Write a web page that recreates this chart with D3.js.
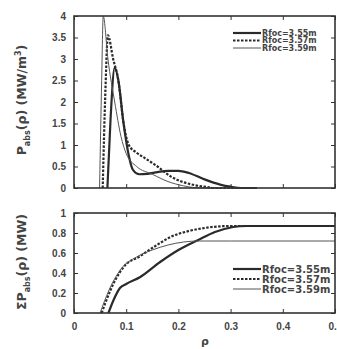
<!DOCTYPE html>
<html lang="en">
<head>
<meta charset="UTF-8">
<script src="https://d3js.org/d3.v7.min.js"></script>
<style>
  body { margin: 0; background: #fff; }
  svg { font-family: "DejaVu Sans", Arial, sans-serif; }
  .tick text { font-size: 10px; font-weight: bold; fill: #444; }
  .tick line { stroke: #333; }
  .frame { fill: none; stroke: #333; stroke-width: 1.6px; }
  .legend text { fill: #444; }
</style>
</head>
<body>
<svg width="337" height="349"></svg>
<script>
const svg = d3.select("svg");

// power density profiles P_abs(rho), MW/m^3
const rho355 = [0.064, 0.070, 0.078, 0.085, 0.095, 0.105, 0.113, 0.125, 0.14, 0.16, 0.18, 0.20, 0.22, 0.25, 0.28, 0.30, 0.32, 0.35];
const p355   = [0,     1.6,   2.8,   2.5,   1.5,   0.75,  0.42,  0.32,  0.33, 0.37, 0.40, 0.40, 0.35, 0.20, 0.08, 0.03, 0,    0];
const rho357 = [0.055, 0.060, 0.065, 0.075, 0.085, 0.095, 0.105, 0.12, 0.135, 0.16, 0.185, 0.20, 0.23, 0.25, 0.27, 0.30, 0.35];
const p357   = [0,     2.2,   3.55,  3.0,   2.5,   1.5,   1.0,   0.82, 0.70,  0.50, 0.27,  0.18, 0.07, 0.03, 0,    0,    0];
const rho359 = [0.049, 0.053, 0.056, 0.065, 0.078, 0.09, 0.10, 0.12, 0.15, 0.18, 0.21, 0.23, 0.25, 0.35];
const p359   = [0,     2.5,   4.0,   3.0,   2.0,   1.2,  0.8,  0.5,  0.32, 0.15, 0.05, 0.01, 0,    0];

// integrated absorbed power, MW
const rhoI355 = [0.066, 0.075, 0.088, 0.10, 0.127, 0.165, 0.20, 0.238, 0.27, 0.305, 0.33, 0.40, 0.50];
const i355    = [0,     0.12,  0.25,  0.29, 0.36,  0.51,  0.63, 0.73,  0.81, 0.86,  0.87, 0.87, 0.87];
const rhoI357 = [0.053, 0.060, 0.070, 0.095, 0.127, 0.165, 0.185, 0.22, 0.25, 0.30, 0.35, 0.50];
const i357    = [0,     0.10,  0.23,  0.46,  0.57,  0.70,  0.76,  0.82, 0.85, 0.87, 0.87, 0.87];
const rhoI359 = [0.050, 0.057, 0.068, 0.090, 0.12, 0.15, 0.18, 0.21, 0.24, 0.30, 0.50];
const i359    = [0,     0.10,  0.24,  0.44,  0.56, 0.63, 0.68, 0.71, 0.72, 0.72, 0.72];

const legendLabels = ["Rfoc=3.55m", "Rfoc=3.57m", "Rfoc=3.59m"];
const xTicks = [0, 0.1, 0.2, 0.3, 0.4, 0.5];
const yTicksTop = [0, 0.5, 1, 1.5, 2, 2.5, 3, 3.5, 4];
const yTicksBot = [0, 0.2, 0.4, 0.6, 0.8, 1];

const styles = [
  { stroke: "#2a2a2a", width: 2.2, dash: null },
  { stroke: "#2a2a2a", width: 2.2, dash: "2.5,1.5" },
  { stroke: "#555", width: 1, dash: null }
];

const left = 74, right = 335;
const x = d3.scaleLinear().domain([0, 0.5]).range([left, right]);
const yTop = d3.scaleLinear().domain([0, 4]).range([188, 16]);
const yBot = d3.scaleLinear().domain([0, 1]).range([313, 213]);

function panel(y, ticksY, series, showX) {
  const g = svg.append("g");
  const [y0, y1] = y.range();
  g.append("g").attr("transform", `translate(0,${y0})`)
    .call(d3.axisBottom(x).tickValues(xTicks).tickSize(-4).tickPadding(showX ? 10 : 0)
      .tickFormat(showX ? d3.format("") : ""))
    .call(a => a.select(".domain").remove());
  g.append("g").attr("transform", `translate(0,${y1})`)
    .call(d3.axisTop(x).tickValues(xTicks).tickSize(-4).tickFormat(""))
    .call(a => a.select(".domain").remove());
  g.append("g").attr("transform", `translate(${left},0)`)
    .call(d3.axisLeft(y).tickValues(ticksY).tickSize(-4).tickPadding(8).tickFormat(d3.format("")))
    .call(a => a.select(".domain").remove());
  g.append("g").attr("transform", `translate(${right},0)`)
    .call(d3.axisRight(y).tickValues(ticksY).tickSize(-4).tickFormat(""))
    .call(a => a.select(".domain").remove());

  const line = d3.line().x(d => x(d[0])).y(d => y(d[1])).curve(d3.curveMonotoneX);
  series.forEach((s, i) => {
    g.append("path")
      .datum(d3.zip(s[0], s[1]))
      .attr("d", line)
      .attr("fill", "none")
      .attr("stroke", styles[i].stroke)
      .attr("stroke-width", styles[i].width)
      .attr("stroke-dasharray", styles[i].dash);
  });
  g.append("rect").attr("class", "frame")
    .attr("x", left).attr("y", y1).attr("width", right - left).attr("height", y0 - y1);
}

panel(yTop, yTicksTop, [[rho355, p355], [rho357, p357], [rho359, p359]], false);
panel(yBot, yTicksBot, [[rhoI355, i355], [rhoI357, i357], [rhoI359, i359]], true);

function legend(x0, y0, dy, len, fs) {
  const g = svg.append("g").attr("class", "legend");
  legendLabels.forEach((t, i) => {
    const yy = y0 + i * dy;
    g.append("line").attr("x1", x0).attr("x2", x0 + len).attr("y1", yy).attr("y2", yy)
      .attr("stroke", styles[i].stroke).attr("stroke-width", styles[i].width)
      .attr("stroke-dasharray", styles[i].dash);
    g.append("text").attr("x", x0 + len + 1).attr("y", yy + fs * 0.35)
      .attr("font-size", fs).attr("font-weight", "bold").text(t);
  });
}
legend(233, 33, 7.5, 28, 8);
legend(233, 269, 10, 28, 10);

// axis titles
function ytitle(cx, cy, pre, post) {
  const t = svg.append("text")
    .attr("transform", `translate(${cx},${cy}) rotate(-90)`)
    .attr("text-anchor", "middle")
    .attr("font-size", 12.5).attr("font-weight", "bold").attr("fill", "#444");
  t.append("tspan").text(pre);
  t.append("tspan").attr("font-size", 8).attr("dy", 4).text("abs");
  t.append("tspan").attr("dy", -4).html(post);
}
ytitle(26, 100, "P", "(ρ) (MW/m<tspan font-size='8' dy='-5'>3</tspan><tspan dy='5'>)</tspan>");
ytitle(26, 262, "ΣP", "(ρ) (MW)");

svg.append("text").attr("x", 205).attr("y", 345).attr("text-anchor", "middle")
  .attr("font-size", 11).attr("font-weight", "bold").attr("fill", "#444").text("ρ");
</script>
</body>
</html>
